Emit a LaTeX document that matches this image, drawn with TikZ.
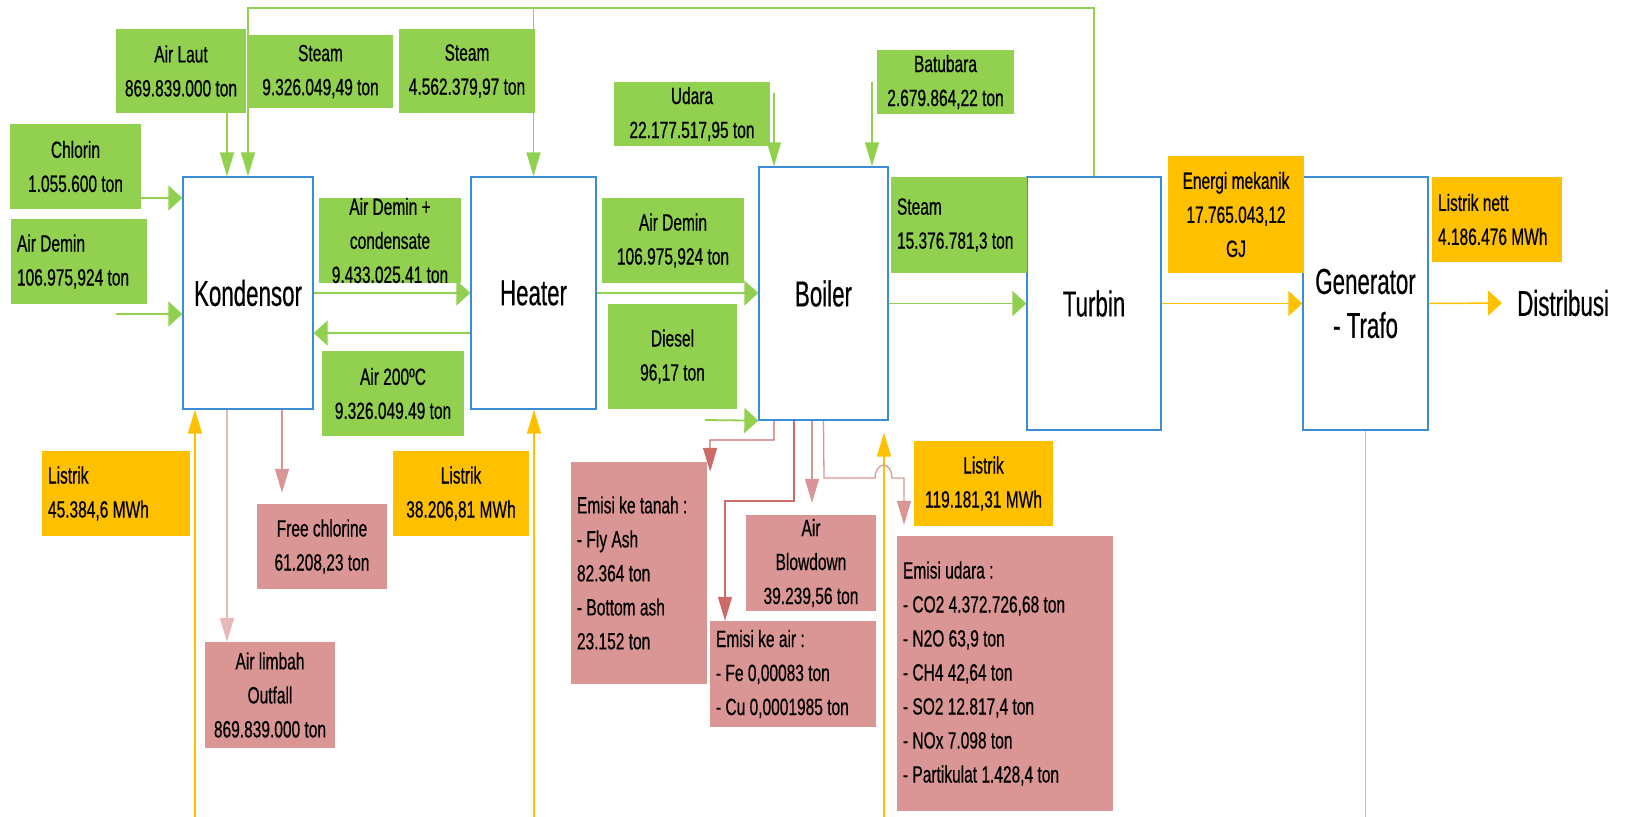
\documentclass[tikz,border=0pt]{standalone}
\usepackage{fontspec}
\setmainfont{Liberation Sans}[FakeStretch=0.66,FakeBold=0.5]
\newfontfamily\titlefont{Liberation Sans}[FakeStretch=0.62,FakeBold=0.4]
\usetikzlibrary{arrows.meta,backgrounds,calc}
\definecolor{gfill}{HTML}{92D050}
\definecolor{yfill}{HTML}{FFC000}
\definecolor{pfill}{HTML}{DA9694}
\definecolor{glc}{HTML}{92D050}
\definecolor{ylc}{HTML}{FFC000}
\definecolor{plc}{HTML}{DA9694}
\definecolor{lplc}{HTML}{E6B8B7}
\definecolor{rlc}{HTML}{CD6B69}
\definecolor{bline}{HTML}{3C8DD6}
\tikzset{
  ha/.tip={Triangle[length=14pt,width=25pt]},
  va/.tip={Triangle[length=24pt,width=14pt]},
  lbl/.style={inner sep=0pt, font=\fontsize{23.5}{34}\selectfont, align=center, text=black},
  gbox/.style={lbl, fill=gfill},
  ybox/.style={lbl, fill=yfill},
  pbox/.style={lbl, fill=pfill},
  lefttext/.style={align=left, inner xsep=6pt, text width=#1,
     execute at begin node={\spaceskip=0pt\xspaceskip=0pt\relax}},
  mainbox/.style={draw=bline, line width=1.3pt, fill=white, inner sep=0pt, align=center,
     font=\titlefont\fontsize{36}{44}\selectfont},
  gcon/.style={draw=glc, line width=1.8pt},
  gthin/.style={draw=glc, line width=1.3pt},
  ycon/.style={draw=ylc, line width=1.5pt},
  pcon/.style={draw=plc, line width=1.3pt},
  lpcon/.style={draw=lplc, line width=1.5pt},
  rcon/.style={draw=rlc, line width=1.3pt},
}
\begin{document}
\begin{tikzpicture}[x=1pt,y=-1pt]
\useasboundingbox (0,0) rectangle (1626,817);
% main process boxes
\node[mainbox, minimum width=130pt, minimum height=232pt] (kond) at (248,293) {Kondensor};
\node[mainbox, minimum width=125pt, minimum height=232pt] (heater) at (533.5,293) {Heater};
\node[mainbox, minimum width=129pt, minimum height=253pt] (boiler) at (823.5,293.5) {Boiler};
\node[mainbox, minimum width=134pt, minimum height=253pt] (turbin) at (1094,303.5) {Turbin};
\node[mainbox, minimum width=125pt, minimum height=253pt] (gen) at (1365.5,303.5) {Generator\\- Trafo};
\node[inner xsep=15pt, inner ysep=0pt, font=\titlefont\fontsize{36}{44}\selectfont, anchor=west] (distrib) at (1502,303) {Distribusi};
% green inputs
\node[gbox, minimum width=130pt, minimum height=84pt] (airlaut) at (181,71) {Air Laut\\869.839.000 ton};
\node[gbox, minimum width=145pt, minimum height=73pt] (steamA) at (320.5,71.5) {Steam\\9.326.049,49 ton};
\node[gbox, minimum width=136pt, minimum height=84pt] (steamB) at (467,71) {Steam\\4.562.379,97 ton};
\node[gbox, minimum width=131pt, minimum height=85pt] (chlorin) at (75.5,166.5) {Chlorin\\1.055.600 ton};
\node[gbox, lefttext=124pt, minimum height=85pt] (ademL) at (79,261.5) {Air Demin\\106.975,924 ton};
\node[gbox, minimum width=142pt, minimum height=85pt] (adc) at (390,240.5) {Air Demin +\\condensate\\9.433.025.41 ton};
\node[gbox, minimum width=142pt, minimum height=85pt] (air200) at (393,393.5) {Air 200ºC\\9.326.049.49 ton};
\node[gbox, minimum width=156pt, minimum height=64pt] (udara) at (692,114) {Udara\\22.177.517,95 ton};
\node[gbox, minimum width=137pt, minimum height=64pt] (batubara) at (945.5,82) {Batubara\\2.679.864,22 ton};
\node[gbox, minimum width=142pt, minimum height=85pt] (ademB) at (673,240.5) {Air Demin\\106.975,924 ton};
\node[gbox, minimum width=129pt, minimum height=105pt] (diesel) at (672.5,356.5) {Diesel\\96,17 ton};
\node[gbox, lefttext=124pt, minimum height=96pt] (steamC) at (959,225) {Steam\\15.376.781,3 ton};
% yellow energy boxes
\node[ybox, minimum width=136pt, minimum height=117pt] (energi) at (1236,214.5) {Energi mekanik\\17.765.043,12\\GJ};
\node[ybox, lefttext=118pt, minimum height=85pt] (nett) at (1497,219.5) {Listrik nett\\4.186.476 MWh};
\node[ybox, lefttext=136pt, minimum height=85pt] (listrikA) at (116,493.5) {Listrik\\45.384,6 MWh};
\node[ybox, minimum width=136pt, minimum height=85pt] (listrikB) at (461,493.5) {Listrik\\38.206,81 MWh};
\node[ybox, minimum width=139pt, minimum height=85pt] (listrikC) at (983.5,483.5) {Listrik\\119.181,31 MWh};
% pink outputs
\node[pbox, minimum width=130pt, minimum height=85pt] (freecl) at (322,546.5) {Free chlorine\\61.208,23 ton};
\node[pbox, minimum width=130pt, minimum height=106pt] (limbah) at (270,695) {Air limbah\\Outfall\\869.839.000 ton};
\node[pbox, lefttext=124pt, minimum height=222pt] (tanah) at (639,573) {Emisi ke tanah :\\- Fly Ash\\82.364 ton\\- Bottom ash\\23.152 ton};
\node[pbox, minimum width=130pt, minimum height=96pt] (blowdown) at (811,563) {Air\\Blowdown\\39.239,56 ton};
\node[pbox, lefttext=154pt, minimum height=106pt] (emair) at (793,674) {Emisi ke air :\\- Fe 0,00083 ton\\- Cu 0,0001985 ton};
\node[pbox, lefttext=204pt, minimum height=275pt] (emudara) at (1005,673.5) {Emisi udara :\\- CO2 4.372.726,68 ton\\- N2O 63,9 ton\\- CH4 42,64 ton\\- SO2 12.817,4 ton\\- NOx 7.098 ton\\- Partikulat 1.428,4 ton};
% free ends
\coordinate (topy) at (0,8);
\coordinate (adinS) at (116,314);
\coordinate (dieselS) at (705,420);
\coordinate (udS) at (774,93);
\coordinate (bbS) at (872,82);
\coordinate (l1S) at (195,817);
\coordinate (l2S) at (534,817);
\coordinate (l3S) at (884,817);
\begin{scope}[on background layer]
% green flows
\draw[gthin,-va] (turbin.north) |- (kond.north |- topy) -- (kond.north);
\draw[gthin,-va] (heater.north |- topy) -- (heater.north);
\draw[gcon,-va] ([xshift=46pt]airlaut.south) -- ([xshift=-21pt]kond.north);
\draw[gcon,-ha] (chlorin.east |- 0,198) -- (kond.west |- 0,198);
\draw[gcon,-ha] (adinS) -- (kond.west |- adinS);
\draw[gcon,-ha] (kond.east) -- (heater.west);
\draw[gcon,-ha] (heater.west |- 0,333) -- (kond.east |- 0,333);
\draw[gcon,-ha] (heater.east) -- (boiler.west |- heater.east);
\draw[gcon,-ha] (dieselS) -- (boiler.south west);
\draw[gthin,-va] (udS) -- (boiler.north -| udS);
\draw[gthin,-va] (bbS) -- (boiler.north -| bbS);
\draw[gcon,-ha] (boiler.east |- turbin.west) -- (turbin.west);
% yellow energy
\draw[ycon,-ha] (turbin.east) -- (gen.west);
\draw[ycon,-ha] (gen.east) -- (distrib.west);
\draw[ycon,-va] (l1S) -- (kond.south -| l1S);
\draw[ycon,-va] (l2S) -- (heater.south -| l2S);
\draw[ycon,-va] (l3S) -- ($(boiler.south -| l3S)+(0,12)$);
\draw[ycon] (gen.south) -- (gen.south |- l1S);
% pink outputs
\draw[lpcon,-va] (kond.south -| 227,0) -- (limbah.north -| 227,0);
\draw[pcon,-va] (kond.south -| 282,0) -- ($(freecl.north -| 282,0)+(0,-11)$);
\draw[rcon,-va] (boiler.south -| 774,0) -- (774,440) -- (710,440) -- ($(tanah.north east)+(3,10)$);
\draw[rcon,-va] (boiler.south -| 794,0) -- (794,501) -- (725,501) -- (emair.north -| 725,0);
\draw[pcon,-va] (boiler.south -| 812,0) -- ($(blowdown.north -| 812,0)+(0,-12)$);
\draw[pcon,-va] (boiler.south) -- (824,478) -- (875,478) arc[start angle=180,end angle=0,x radius=8.5pt,y radius=13pt] -- (904,478) -- ($(emudara.north -| 904,0)+(0,-11)$);
\end{scope}
\end{tikzpicture}
\end{document}
